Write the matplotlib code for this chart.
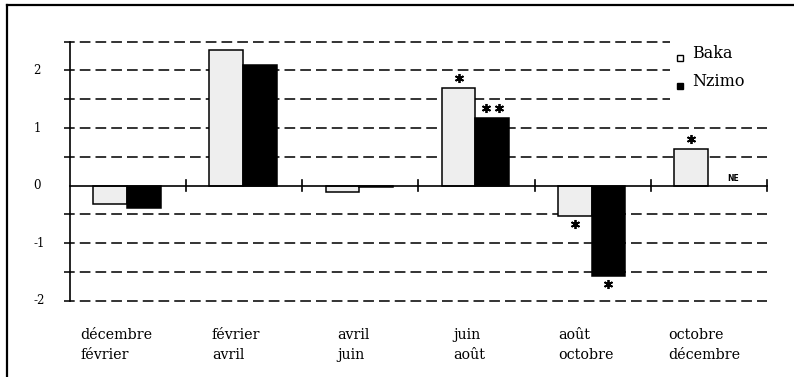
import numpy as np
import matplotlib
matplotlib.use('Agg')
import matplotlib.pyplot as plt
from matplotlib.lines import Line2D

# Données : écarts saisonniers par période de deux mois
periodes_haut = ['décembre', 'février', 'avril', 'juin', 'août', 'octobre']
periodes_bas = ['février', 'avril', 'juin', 'août', 'octobre', 'décembre']
baka = [-0.32, 2.36, -0.11, 1.70, -0.53, 0.64]
nzimo = [-0.39, 2.10, -0.03, 1.18, -1.57, np.nan]   # NaN = non estimé
sig_baka = ['', '', '', '*', '*', '*']
sig_nzimo = ['', '', '', '**', '*', '']
yticks = [-2, -1, 0, 1, 2]
niveaux = [-2, -1.5, -1, -0.5, 0.5, 1, 1.5, 2, 2.5]

# mise en page
decal_labels = [-0.414, -0.278, -0.202, -0.203, -0.30, -0.354]
largeur = 0.29
dx_baka, dx_nzimo = -0.155, 0.135
serif = 'DejaVu Serif'

fig = plt.figure(figsize=(7.94, 3.77), dpi=100)
fig.patch.set_facecolor('white')
ax = fig.add_axes([70 / 794, (377 - 300.7) / 377, 697 / 794, 259 / 377])
ax.set_xlim(-0.5, 5.5)
ax.set_ylim(-2, 2.5)
ax.axis('off')

x = np.arange(len(baka))

# cadre de la figure (haut et gauche)
fig.add_artist(Line2D([7 / 794, 1], [1 - 5 / 377, 1 - 5 / 377], color='black', lw=1.6))
fig.add_artist(Line2D([7 / 794, 7 / 794], [0, 1 - 5 / 377], color='black', lw=1.6))

# lignes pointillées horizontales
for n in niveaux:
    fin = 4.665 if n >= 1.5 else 5.5
    ax.plot([-0.552, fin], [n, n], color='#333333', lw=1.4, dashes=[5.5, 2.6],
            clip_on=False, zorder=1)

# axes
ax.plot([-0.5, -0.5], [-2, 2.5], color='black', lw=1.2, clip_on=False, zorder=4)
ax.plot([-0.5, 5.5], [0, 0], color='black', lw=1.2, clip_on=False, zorder=4)
for b in np.arange(0.5, 6.0, 1.0):
    ax.plot([b, b], [-0.09, 0.09], color='black', lw=1.2, clip_on=False, zorder=4)

# barres
ax.bar(x + dx_baka, baka, largeur, color='#eeeeee', edgecolor='black', lw=1.1, zorder=3)
ax.bar(x + dx_nzimo, nzimo, largeur, color='black', edgecolor='black', lw=1.1, zorder=3)

# astérisques de significativité
def etoiles(xc, val, sig):
    if not sig:
        return
    k = len(sig)
    xs = xc + (np.arange(k) - (k - 1) / 2) * 0.112
    y = val + (0.17 if val > 0 else -0.14)
    ax.plot(xs, [y] * k, ls='none', marker=(6, 2, 0), ms=6.5, mew=1.3,
            color='black', clip_on=False, zorder=5)

for i in x:
    etoiles(i + dx_baka, baka[i], sig_baka[i])
    if not np.isnan(nzimo[i]):
        etoiles(i + dx_nzimo, nzimo[i], sig_nzimo[i])
    else:
        ax.text(i + dx_nzimo + 0.07, 0.13, 'NE', fontsize=5.5, fontweight='bold',
                ha='center', va='center', family='DejaVu Sans')

# graduations de l'axe y
for t in yticks:
    ax.text(-0.816, t, str(t), fontsize=8.5, family=serif, ha='left', va='center')

# étiquettes des périodes
for i in x:
    ax.text(i + decal_labels[i], -2.6, periodes_haut[i], fontsize=10.3, family=serif,
            ha='left', va='center')
    ax.text(i + decal_labels[i], -2.95, periodes_bas[i], fontsize=10.3, family=serif,
            ha='left', va='center')

# légende
ax.plot([4.751], [2.22], ls='none', marker='s', ms=5, mfc='white', mec='black',
        mew=1.0, clip_on=False)
ax.plot([4.751], [1.73], ls='none', marker='s', ms=5, mfc='black', mec='black',
        clip_on=False)
ax.text(4.854, 2.30, 'Baka', fontsize=11.5, family=serif, ha='left', va='center')
ax.text(4.854, 1.80, 'Nzimo', fontsize=11.5, family=serif, ha='left', va='center')

fig.savefig('out.png', dpi=100)
